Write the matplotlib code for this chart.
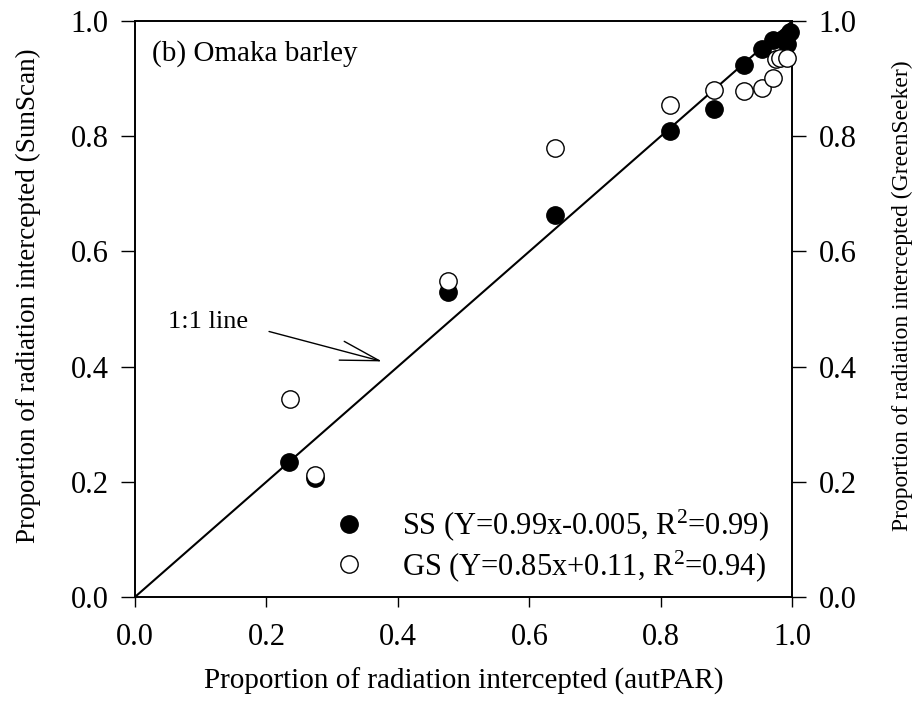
import matplotlib
matplotlib.use('Agg')
import matplotlib.pyplot as plt
from matplotlib.lines import Line2D

# autPAR values (x) and the two sensor readings
ss_x = [0.234, 0.274, 0.476, 0.639, 0.814, 0.881, 0.927, 0.954, 0.971, 0.986, 0.992, 0.997]
ss_y = [0.234, 0.207, 0.529, 0.664, 0.809, 0.847, 0.924, 0.951, 0.967, 0.969, 0.960, 0.981]

gs_x = [0.236, 0.274, 0.476, 0.639, 0.814, 0.881, 0.927, 0.954, 0.971, 0.976, 0.982, 0.992]
gs_y = [0.343, 0.211, 0.549, 0.780, 0.854, 0.880, 0.879, 0.884, 0.901, 0.934, 0.936, 0.936]

ticks = [0.0, 0.2, 0.4, 0.6, 0.8, 1.0]
ss_label = r'SS (Y=0.99x-0.005, R$^2$=0.99)'
gs_label = r'GS (Y=0.85x+0.11, R$^2$=0.94)'

plt.rcParams['font.family'] = ['Liberation Serif', 'DejaVu Serif']
plt.rcParams['mathtext.fontset'] = 'custom'
plt.rcParams['mathtext.rm'] = 'Liberation Serif'
plt.rcParams['mathtext.it'] = 'Liberation Serif:italic'

fig = plt.figure(figsize=(9.18, 7.02), dpi=100)
ax = fig.add_axes([0.147, 0.1496, 0.716, 0.8204])

# 1:1 line
ax.plot([0, 1], [0, 1], color='black', lw=1.5, zorder=1)
ax.plot(ss_x, ss_y, 'o', color='black', ms=12.5, mec='black', mew=1, zorder=3,
        clip_on=False)

ax.set_xlim(0, 1)
ax.set_ylim(0, 1)
ax.set_xticks(ticks)
ax.set_yticks(ticks)
ax.set_xticklabels(['%.1f' % t for t in ticks])
ax.set_yticklabels(['%.1f' % t for t in ticks])
ax.tick_params(axis='x', direction='out', length=7, width=1, labelsize=22, pad=12)
ax.tick_params(axis='y', direction='out', length=10, width=1, labelsize=22, pad=9)
ax.set_xlabel('Proportion of radiation intercepted (autPAR)', fontsize=21, labelpad=11)
ax.set_ylabel('Proportion of radiation intercepted (SunScan)', fontsize=19.5, labelpad=21)
ax.yaxis.label.set_y(0.524)

ax2 = ax.twinx()
ax2.plot(gs_x, gs_y, 'o', color='white', ms=12.5, mec='black', mew=1, zorder=3,
         clip_on=False)
ax2.set_ylim(0, 1)
ax2.set_yticks(ticks)
ax2.set_yticklabels(['%.1f' % t for t in ticks])
ax2.tick_params(direction='out', length=10, width=1, labelsize=22, pad=9)
ax2.set_ylabel('Proportion of radiation intercepted (GreenSeeker)', fontsize=17, labelpad=25)
ax2.yaxis.label.set_y(0.524)

for a in (ax, ax2):
    for s in a.spines.values():
        s.set_linewidth(1.2)

ax.text(0.026, 0.943, '(b) Omaka barley', fontsize=21, ha='left', va='center')
ax.text(0.050, 0.477, '1:1 line', fontsize=19, ha='left', va='center')
ax.annotate('', xy=(0.376, 0.409), xytext=(0.204, 0.461),
            arrowprops=dict(arrowstyle='->,head_length=2.8,head_width=0.7',
                            color='black', lw=1, shrinkA=0, shrinkB=0))

handles = [Line2D([], [], ls='', marker='o', color='black', ms=12.5),
           Line2D([], [], ls='', marker='o', mfc='white', mec='black', ms=12.5)]
ax2.legend(handles, [ss_label, gs_label], loc='center left',
           bbox_to_anchor=(0.237, 0.089), frameon=False, fontsize=22,
           handlelength=2.0, handletextpad=0.73, labelspacing=0.15,
           borderpad=0.4)

fig.savefig('out.png', dpi=100)
